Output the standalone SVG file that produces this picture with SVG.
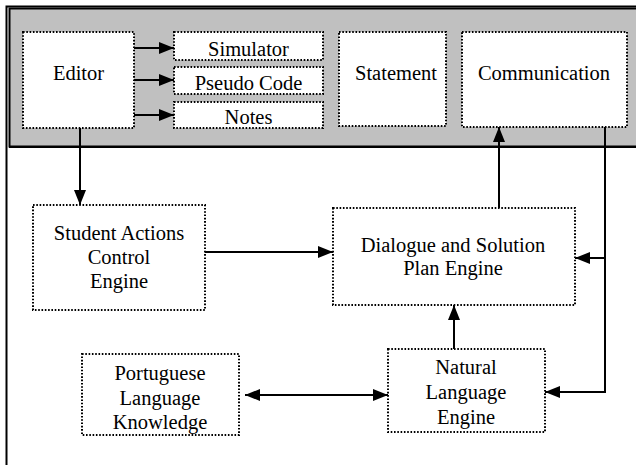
<svg xmlns="http://www.w3.org/2000/svg" width="636" height="465" viewBox="0 0 636 465">
<defs>
<style>
.box{fill:#fff;stroke:#000;stroke-width:2;stroke-dasharray:1.6 1.7}
.t{font-family:'Liberation Serif','DejaVu Serif',serif;font-size:20.5px;fill:#000;text-anchor:middle}
.c{fill:none;stroke:#000;stroke-width:2}
</style>
<marker id="ah" viewBox="0 0 15 12" refX="15" refY="6" markerWidth="15" markerHeight="12" markerUnits="userSpaceOnUse" orient="auto-start-reverse">
<path d="M0,0 L15,6 L0,12 z" fill="#000"/>
</marker>
</defs>
<rect width="636" height="465" fill="#fff"/>
<g id="frame">
<path d="M6.5,465 V6.5 H636" fill="none" stroke="#000" stroke-width="2"/>
<rect x="9.5" y="8.5" width="640" height="138" fill="#c0c0c0" stroke="#000" stroke-width="2"/>
<line x1="9" y1="147" x2="636" y2="147" stroke="#000" stroke-width="2"/>
</g>
<g id="editor"><rect class="box" x="23" y="32" width="111" height="96"/><text class="t" x="78.5" y="80">Editor</text></g>
<g id="simulator"><rect class="box" x="174" y="32" width="149" height="28"/><text class="t" x="248.5" y="56">Simulator</text></g>
<g id="pseudocode"><rect class="box" x="174" y="67" width="149" height="27"/><text class="t" x="248.5" y="90">Pseudo Code</text></g>
<g id="notes"><rect class="box" x="174" y="102" width="149" height="26"/><text class="t" x="248.5" y="124">Notes</text></g>
<g id="statement"><rect class="box" x="339" y="32" width="107" height="94"/><text class="t" x="396" y="80">Statement</text></g>
<g id="communication"><rect class="box" x="462" y="32" width="165" height="95"/><text class="t" x="544" y="80">Communication</text></g>
<g id="student"><rect class="box" x="33" y="205" width="172" height="105"/><text class="t" x="119" y="240">Student Actions</text><text class="t" x="119" y="264">Control</text><text class="t" x="119" y="288">Engine</text></g>
<g id="dialogue"><rect class="box" x="333" y="208" width="242" height="97"/><text class="t" x="453" y="252">Dialogue and Solution</text><text class="t" x="453" y="275">Plan Engine</text></g>
<g id="portuguese"><rect class="box" x="82" y="354" width="157" height="81"/><text class="t" x="160" y="380">Portuguese</text><text class="t" x="160" y="405">Language</text><text class="t" x="160" y="429">Knowledge</text></g>
<g id="nle"><rect class="box" x="388" y="349" width="157" height="83"/><text class="t" x="466" y="374">Natural</text><text class="t" x="466" y="399">Language</text><text class="t" x="466" y="424">Engine</text></g>
<g id="connectors">
<line class="c" x1="134" y1="48" x2="174" y2="48" marker-end="url(#ah)"/>
<line class="c" x1="134" y1="80" x2="174" y2="80" marker-end="url(#ah)"/>
<line class="c" x1="134" y1="115" x2="174" y2="115" marker-end="url(#ah)"/>
<line class="c" x1="80" y1="128" x2="80" y2="205" marker-end="url(#ah)"/>
<line class="c" x1="205" y1="252" x2="333" y2="252" marker-end="url(#ah)"/>
<line class="c" x1="499" y1="208" x2="499" y2="127" marker-end="url(#ah)"/>
<line class="c" x1="454" y1="349" x2="454" y2="305" marker-end="url(#ah)"/>
<path class="c" d="M605,127 V392 H545" marker-end="url(#ah)"/>
<line class="c" x1="605" y1="258" x2="575" y2="258" marker-end="url(#ah)"/>
<line class="c" x1="245" y1="395" x2="388" y2="395" marker-start="url(#ah)" marker-end="url(#ah)"/>
</g>
</svg>
